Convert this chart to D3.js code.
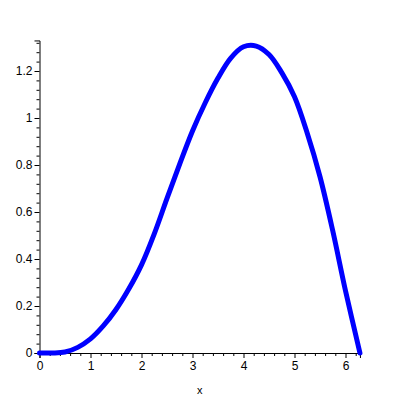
<!DOCTYPE html>
<html><head><meta charset="utf-8">
<script src="https://cdn.jsdelivr.net/npm/d3@7"></script>
<style>body{margin:0;background:#fff}svg{display:block}</style>
</head><body>
<script>
const xValues = [0, 0.25, 0.5, 0.75, 1.0, 1.25, 1.5, 1.75, 2.0, 2.25, 2.5, 2.75, 3.0, 3.25, 3.5, 3.75, 4.0, 4.25, 4.5, 4.75, 5.0, 5.25, 5.5, 5.75, 6.0, 6.2832];
const yValues = [0, 0.0, 0.004, 0.024, 0.06, 0.115, 0.185, 0.272, 0.375, 0.507, 0.658, 0.805, 0.945, 1.065, 1.17, 1.255, 1.303, 1.306, 1.27, 1.193, 1.09, 0.935, 0.75, 0.52, 0.265, 0.0];
const xTickLabels = ["0", "1", "2", "3", "4", "5", "6"];
const yTickLabels = ["0", "0.2", "0.4", "0.6", "0.8", "1", "1.2"];
const xAxisTitle = "x";

const W = 400, H = 400;
const svg = d3.select("body").append("svg").attr("width", W).attr("height", H);
const x = d3.scaleLinear().domain([0, 2 * Math.PI]).range([39.5, 39.5 + 51 * 2 * Math.PI]);
const y = d3.scaleLinear().domain([0, 1.33]).range([353, 353 - 1.33 * 235]);

const font = "Liberation Sans, Arial, sans-serif";

// x axis
const xMajor = xTickLabels.map(Number);
const xMinor = d3.range(0, 6.21, 0.2).filter(v => Math.abs(v - Math.round(v)) > 1e-6);
const gx = svg.append("g").attr("transform", `translate(0,${y(0)})`);
gx.call(d3.axisBottom(x).tickValues(xMinor).tickSize(3).tickFormat(""))
  .call(g => g.select(".domain").remove());
gx.append("g").call(d3.axisBottom(x).tickValues(xMajor).tickSize(5).tickPadding(3)
  .tickFormat((d, i) => xTickLabels[i]))
  .call(g => g.selectAll("text").attr("font-family", font).attr("font-size", 12).attr("fill", "#000"));
gx.selectAll("line").attr("stroke", "#000");
gx.selectAll(".domain").attr("stroke", "#000");

// y axis
const yMajor = yTickLabels.map(Number);
const yMinor = d3.range(0, 1.33, 0.04).filter(v => Math.abs(v / 0.2 - Math.round(v / 0.2)) > 1e-6);
const gy = svg.append("g").attr("transform", `translate(${x(0)},0)`);
gy.call(d3.axisLeft(y).tickValues(yMinor).tickSize(3).tickFormat(""))
  .call(g => g.select(".domain").remove());
gy.append("g").call(d3.axisLeft(y).tickValues(yMajor).tickSize(5).tickPadding(2)
  .tickFormat((d, i) => yTickLabels[i]))
  .call(g => g.selectAll("text").attr("font-family", font).attr("font-size", 12).attr("fill", "#000"));
gy.selectAll("line").attr("stroke", "#000");
gy.selectAll(".domain").attr("stroke", "#000");

// axis title
svg.append("text").attr("x", (x(0) + x(2 * Math.PI)) / 2).attr("y", 394)
  .attr("text-anchor", "middle").attr("font-family", font).attr("font-size", 11).text(xAxisTitle);

// curve
const data = xValues.map((v, i) => [v, yValues[i]]);
svg.append("path").datum(data)
  .attr("fill", "none").attr("stroke", "#0000ff").attr("stroke-width", 5)
  .attr("stroke-linejoin", "round").attr("stroke-linecap", "round")
  .attr("d", d3.line().x(d => x(d[0])).y(d => y(d[1])).curve(d3.curveCatmullRom.alpha(0.5)));
</script>
</body></html>
